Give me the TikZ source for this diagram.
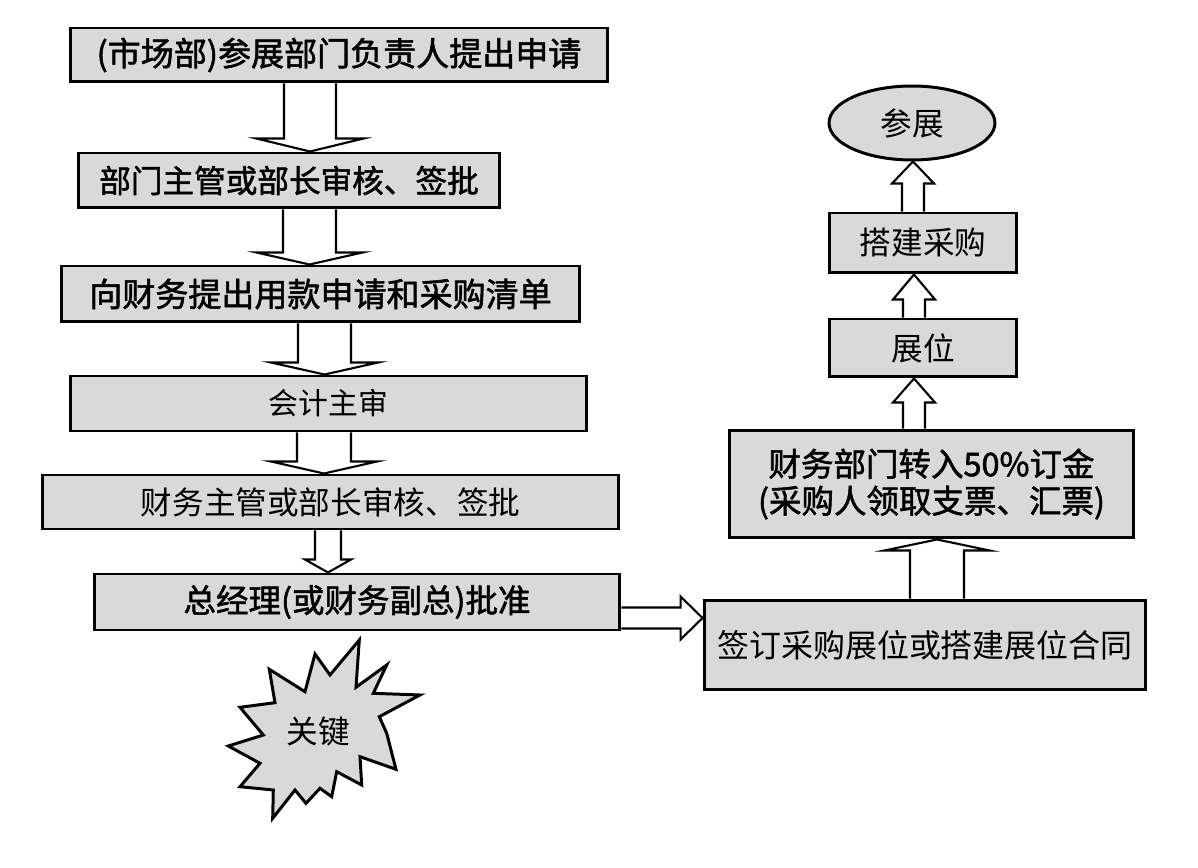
\documentclass[tikz,border=0pt]{standalone}
\usepackage{fontspec}
\usepackage{tikz}
\usetikzlibrary{calc,shapes.geometric}
\newfontfamily\cjk{Noto Sans CJK SC}
\newfontfamily\cjkheavy[FakeBold=1.6]{Noto Sans CJK SC}
\definecolor{boxgray}{gray}{0.85}

% hollow block arrows between two anchors
% vertical: from, to, x, shaft half width, head half width, head length (signed)
\newcommand{\hollowv}[6]{%
  \draw[hollow] (#3-#4,0 |- #1) -- ($(#3-#4,0 |- #2)+(0,#6)$) -- ($(#3-#5,0 |- #2)+(0,#6)$)
    -- (#3,0 |- #2) -- ($(#3+#5,0 |- #2)+(0,#6)$) -- ($(#3+#4,0 |- #2)+(0,#6)$) -- (#3+#4,0 |- #1);}
% horizontal: from, to, y, shaft half width, head half width, head length (signed)
\newcommand{\hollowh}[6]{%
  \draw[hollow] (#1 |- 0,#3-#4) -- ($(#2 |- 0,#3-#4)+(#6,0)$) -- ($(#2 |- 0,#3-#5)+(#6,0)$)
    -- (#2 |- 0,#3) -- ($(#2 |- 0,#3+#5)+(#6,0)$) -- ($(#2 |- 0,#3+#4)+(#6,0)$) -- (#1 |- 0,#3+#4);}

\begin{document}
\begin{tikzpicture}[x=0.02cm,y=-0.02cm,line join=miter,
  every node/.style={font=\cjk\fontsize{18}{21}\selectfont}]
\tikzstyle{box}=[draw,line width=1.7pt,fill=boxgray,inner sep=0pt,align=center]
\tikzstyle{hollow}=[line width=1.2pt]
\useasboundingbox (0,0) rectangle (1198,868);

% left column
\node[box,minimum width=10.76cm,minimum height=1.08cm,font=\cjkheavy\fontsize{18.8}{22}\selectfont] (apply) at (339,55) {(市场部)参展部门负责人提出申请};
\node[box,minimum width=8.44cm,minimum height=1.10cm,font=\cjkheavy\fontsize{18}{21}\selectfont] (deptok) at (289,180.5) {部门主管或部长审核、签批};
\node[box,minimum width=10.38cm,minimum height=1.12cm,font=\cjkheavy\fontsize{18.8}{21}\selectfont] (request) at (320.5,294) {向财务提出用款申请和采购清单};
\node[box,minimum width=10.34cm,minimum height=1.10cm,font=\cjk\fontsize{17}{21}\selectfont] (audit) at (328.5,403.5) {会计主审};
\node[box,minimum width=11.54cm,minimum height=1.08cm] (finok) at (330.5,502) {财务主管或部长审核、签批};
\node[box,minimum width=10.52cm,minimum height=1.12cm,font=\cjkheavy\fontsize{18.5}{21}\selectfont] (gm) at (357,602) {总经理(或财务副总)批准};

% right column
\node[box,minimum width=8.84cm,minimum height=1.80cm,font=\cjk\fontsize{18.2}{22}\selectfont] (contract) at (925,645) {签订采购展位或搭建展位合同};
\node[box,minimum width=8.10cm,minimum height=2.16cm,font=\cjkheavy\fontsize{18.5}{21}\selectfont] (deposit) at (931.5,484) {财务部门转入50\%订金\\(采购人领取支票、汇票)};
\node[box,minimum width=3.76cm,minimum height=1.16cm] (booth) at (923,348) {展位};
\node[box,minimum width=3.76cm,minimum height=1.20cm] (build) at (923,243) {搭建采购};
\node[box,ellipse,minimum width=3.32cm,minimum height=1.48cm] (expo) at (912,123) {参展};

% arrows
\hollowv{apply.south}{deptok.north}{310}{26}{53.5}{-13}
\hollowv{deptok.south}{request.north}{309.5}{26.5}{53}{-12}
\hollowv{request.south}{audit.north}{324.5}{26.5}{53.5}{-12}
\hollowv{audit.south}{finok.north}{324}{27}{53}{-12}
\hollowv{finok.south}{gm.north}{328}{13}{23}{-13}
\hollowh{gm.east}{contract.west}{618}{10.5}{21.5}{-22}
\hollowv{contract.north}{deposit.south}{937}{27}{52.5}{11}
\hollowv{deposit.north}{booth.south}{914}{11}{21}{24}
\hollowv{booth.north}{build.south}{914}{11}{21}{25}
\hollowv{build.north}{expo.south}{913}{11}{21}{22}

% key starburst
\draw[line width=1.7pt,fill=boxgray] (359.3,640) -- (356,687.3) -- (386.7,665) -- (373.3,693.3)
  -- (420,695) -- (379.3,716.7) -- (386.7,733.3) -- (396,769.3) -- (360,756.7) -- (361.7,785)
  -- (336.7,771.7) -- (331.7,796.7) -- (320,788.3) -- (306,803.3) -- (295,790) -- (272.7,818.3)
  -- (273.3,790) -- (240,786.7) -- (260,763.3) -- (228.3,746) -- (263.3,735) -- (240,707.3)
  -- (275,702.7) -- (269.3,669.3) -- (305,691.7) -- (315,654) -- (330,675) -- cycle;
\node (key) at (318,731.7) {关键};
\end{tikzpicture}
\end{document}
